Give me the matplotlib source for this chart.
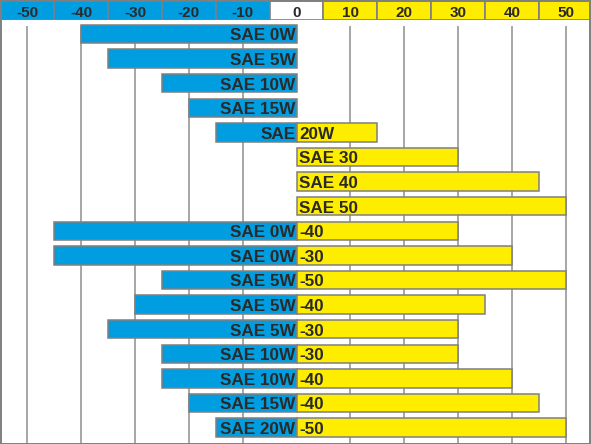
import matplotlib
matplotlib.use("Agg")
import matplotlib.pyplot as plt
from matplotlib.patches import Rectangle

# temperature scale (deg C) shown in the header
scale_ticks = [-50, -40, -30, -20, -10, 0, 10, 20, 30, 40, 50]

# one row per oil grade: cold limit, warm limit and the two text parts
low_temp = [-40, -35, -25, -20, -15, 0, 0, 0, -45, -45, -25, -30, -35, -25, -25, -20, -15]
high_temp = [0, 0, 0, 0, 15, 30, 45, 50, 30, 40, 50, 35, 30, 30, 40, 45, 50]
left_labels = ["SAE 0W", "SAE 5W", "SAE 10W", "SAE 15W", "SAE", "", "", "",
               "SAE 0W", "SAE 0W", "SAE 5W", "SAE 5W", "SAE 5W",
               "SAE 10W", "SAE 10W", "SAE 15W", "SAE 20W"]
right_labels = ["", "", "", "", "20W", "SAE 30", "SAE 40", "SAE 50",
                "-40", "-30", "-50", "-40", "-30", "-30", "-40", "-40", "-50"]

BLUE = "#009ee0"
YELLOW = "#ffed00"
EDGE = "#7f7f7f"
GRID = "#8e8e8e"
TEXT = "#2b2a29"
FONT = ["Liberation Sans", "DejaVu Sans"]

W, H = 591, 444
fig = plt.figure(figsize=(W / 100, H / 100), dpi=100)
fig.patch.set_facecolor("white")

xlim = (-55.1, 54.7)
head_h = 20

# header strip
hax = fig.add_axes([0, 1 - head_h / H, 1, head_h / H])
hax.set_xlim(*xlim)
hax.set_ylim(0, 1)
for t in scale_ticks:
    col = BLUE if t < 0 else (YELLOW if t > 0 else "white")
    hax.bar(t, 1, width=10, bottom=0, color=col, edgecolor=EDGE, linewidth=1.2)
    hax.text(t, 0.17, str(t), ha="center", va="baseline", fontsize=11,
             fontweight="bold", color=TEXT, family=FONT)
hax.axis("off")

# main chart
ax = fig.add_axes([0, 0, 1, 1 - (head_h + 1) / H])
ax.set_xlim(*xlim)
n = len(low_temp)
pitch = 24.6
top_row = -(34 - head_h - 1) / pitch
bottom_row = (H - 34) / pitch
ax.set_ylim(bottom_row, top_row)

grid_top = -(34 - 26.5) / pitch
ax.vlines([t for t in scale_ticks if t != 0], grid_top, bottom_row,
          colors=GRID, linewidth=1.1, zorder=0)

rows = list(range(n))
neg = [min(lo, 0) for lo in low_temp]
pos = [max(hi, 0) for hi in high_temp]
for i in rows:
    if neg[i] < 0:
        ax.barh(i, 0 - neg[i], left=neg[i], height=0.75, color=BLUE,
                edgecolor=EDGE, linewidth=1.1, zorder=2)
    if pos[i] > 0:
        ax.barh(i, pos[i], left=0, height=0.75, color=YELLOW,
                edgecolor=EDGE, linewidth=1.1, zorder=2)
    if left_labels[i]:
        ax.text(-0.2, i + 0.26, left_labels[i], ha="right", va="baseline",
                fontsize=12.3, fontweight="bold", color=TEXT, family=FONT, zorder=3)
    if right_labels[i]:
        ax.text(0.5, i + 0.26, right_labels[i], ha="left", va="baseline",
                fontsize=12.3, fontweight="bold", color=TEXT, family=FONT, zorder=3)

ax.set_xticks([])
ax.set_yticks([])
for s in ax.spines.values():
    s.set_visible(False)

# outer frame
fig.patches.append(Rectangle((0.5 / W, 0.5 / H), 1 - 1.5 / W, 1 - 1.5 / H,
                             transform=fig.transFigure, fill=False,
                             edgecolor=EDGE, linewidth=1.4, zorder=10))

fig.savefig("out.png", dpi=100)
